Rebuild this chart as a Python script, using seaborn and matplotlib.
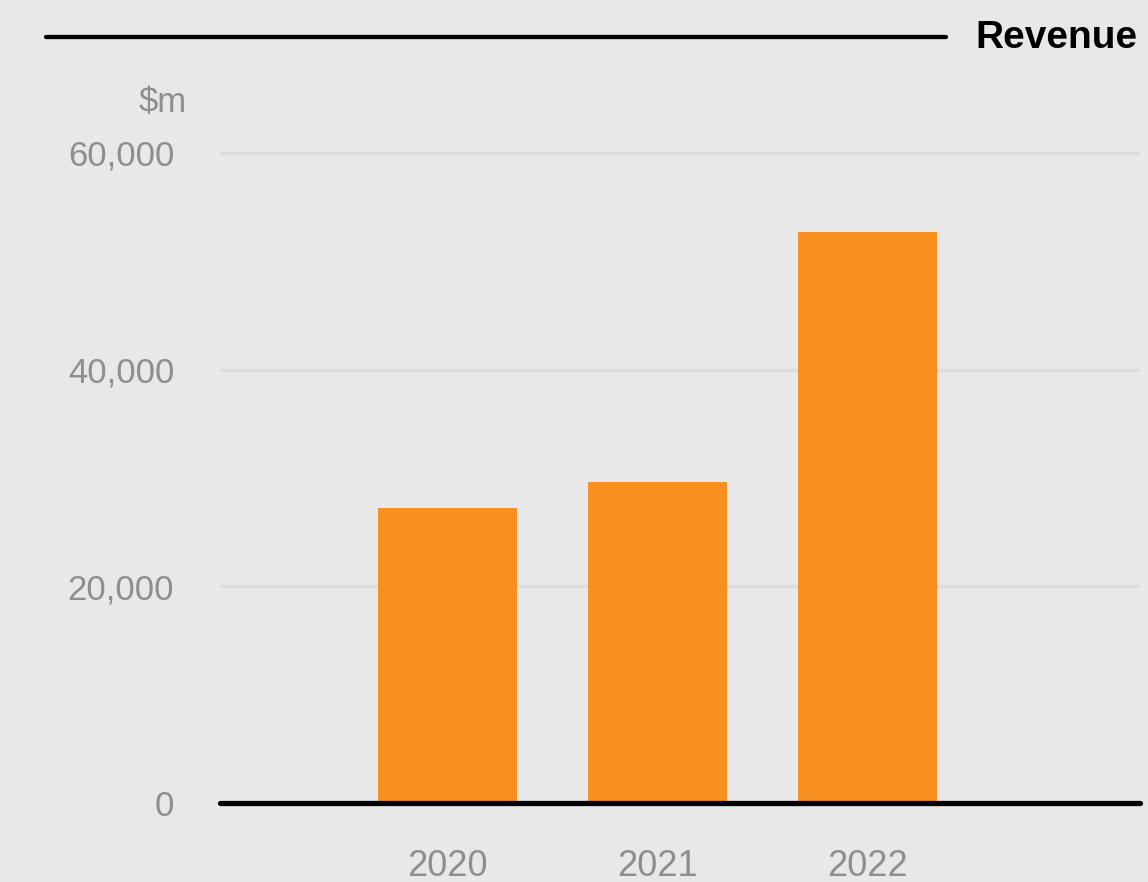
import matplotlib
matplotlib.use("Agg")
import matplotlib.pyplot as plt
from matplotlib.lines import Line2D
import seaborn as sns
import pandas as pd

# Annual revenue, $m
years = ["2020", "2021", "2022"]
revenue = [27200, 29600, 52700]
y_ticks = [0, 20000, 40000, 60000]
y_tick_labels = ["0", "20,000", "40,000", "60,000"]

BG = "#e8e8e8"
BAR = "#f7901e"
GREY = "#8e8e8e"
GRID = "#dcdcdc"

sns.set_theme(style="white")
plt.rcParams["font.family"] = ["Liberation Sans", "DejaVu Sans"]

W, H = 1148, 882
fig = plt.figure(figsize=(W / 100, H / 100), dpi=100, facecolor=BG)

# axes placement in pixels
left_px, right_px = 220, 1140
zero_px, top_val_px = 803, 153
ymax = 62000
px_per_unit = (zero_px - top_val_px) / 60000
top_px = zero_px - ymax * px_per_unit
ax = fig.add_axes([left_px / W, (H - zero_px) / H,
                   (right_px - left_px) / W, (zero_px - top_px) / H])
ax.set_facecolor(BG)

df = pd.DataFrame({"year": years, "revenue": revenue})
sns.barplot(data=df, x="year", y="revenue", order=years, color=BAR,
            saturation=1, width=0.662, linewidth=0, edgecolor=BAR, ax=ax)

ax.set_xlim(-1.083, 3.298)
ax.set_ylim(0, ymax)
ax.set_yticks(y_ticks)
ax.set_yticklabels(y_tick_labels)
ax.set_xlabel("")
ax.set_ylabel("")

for v in y_ticks[1:]:
    ax.axhline(v, color=GRID, lw=2.2, zorder=0)
ax.axhline(0, color="black", lw=3.8, zorder=3, clip_on=False)

for s in ax.spines.values():
    s.set_visible(False)

ax.tick_params(axis="y", length=0, pad=33, labelsize=25, labelcolor=GREY)
ax.tick_params(axis="x", length=0, pad=33, labelsize=26, labelcolor=GREY)

# unit label above the value axis
fig.text(187 / W, 1 - 102 / H, "$m", ha="right", va="center",
         fontsize=25, color=GREY)

# title rule and title
fig.add_artist(Line2D([46 / W, 946 / W], [1 - 37 / H, 1 - 37 / H],
                      color="black", lw=3.1, transform=fig.transFigure))
fig.text(1138 / W, 1 - 38 / H, "Revenue", ha="right", va="center",
         fontsize=28, fontweight="bold", color="black")

fig.savefig("out.png", dpi=100, facecolor=BG)
